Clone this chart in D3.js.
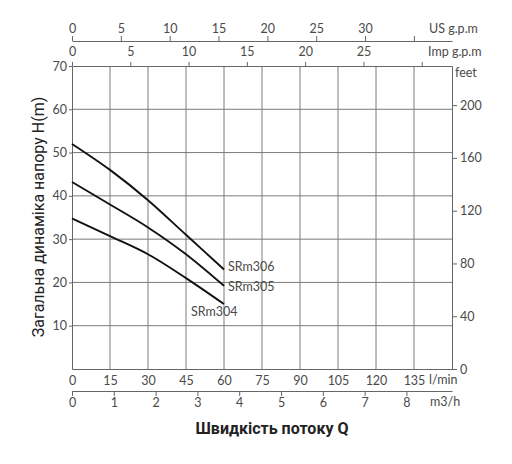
<!DOCTYPE html>
<html>
<head>
<meta charset="utf-8">
<script src="https://cdn.jsdelivr.net/npm/d3@7"></script>
<style>
  body { margin: 0; background: #fff; }
  svg { font-family: "Lato", "DejaVu Sans", sans-serif; }
  .tick text { fill: #4a4a4a; font-size: 12.5px; }
  .unit { fill: #4a4a4a; font-size: 12.5px; }
  .grid line { stroke: #7a7a7a; stroke-width: 1; }
</style>
</head>
<body>
<svg width="512" height="464"></svg>
<script>
// flow points (l/min) and head (m) for each pump
const flowLpm = [0, 15, 30, 45, 60];
const srm306 = [52, 46, 39, 31, 23];
const srm305 = [43.2, 38, 32.7, 26.5, 19.2];
const srm304 = [34.8, 30.7, 26.5, 21, 15];
const seriesNames = ["SRm306", "SRm305", "SRm304"];

const lpmTicks = [0, 15, 30, 45, 60, 75, 90, 105, 120, 135];
const m3hTicks = [0, 1, 2, 3, 4, 5, 6, 7, 8];
const usTicks = [0, 5, 10, 15, 20, 25, 30, 35];
const impTicks = [0, 5, 10, 15, 20, 25, 30];
const headTicks = [10, 20, 30, 40, 50, 60, 70];
const feetTicks = [0, 40, 80, 120, 160, 200];

const svg = d3.select("svg");
const pLeft = 72, pRight = 452, pTop = 66, pBottom = 369;

const x = d3.scaleLinear().domain([0, 150]).range([pLeft, pRight]);
const y = d3.scaleLinear().domain([0, 70]).range([pBottom, pTop]);
const yFt = d3.scaleLinear().domain([0, 70 * 3.28084]).range([pBottom, pTop]);
const xUS = d3.scaleLinear().domain([0, 38.9]).range([pLeft, pRight]);
const xImp = d3.scaleLinear().domain([0, 32.6]).range([pLeft, pRight]);
const xM3 = d3.scaleLinear().domain([0, 9.09]).range([pLeft, pRight]);

// grid
const grid = svg.append("g").attr("class", "grid");
grid.selectAll(".v").data(lpmTicks.slice(1)).enter().append("line")
  .attr("x1", d => x(d)).attr("x2", d => x(d))
  .attr("y1", pTop).attr("y2", pBottom);
grid.selectAll(".h").data(headTicks.slice(0, -1)).enter().append("line")
  .attr("x1", pLeft).attr("x2", pRight)
  .attr("y1", d => y(d)).attr("y2", d => y(d));

function styleAxis(g) {
  g.attr("font-family", null).attr("font-size", null);
  g.select(".domain").attr("stroke", "#666");
  g.selectAll(".tick line").attr("stroke", "#666");
}

// top axes
svg.append("g").attr("transform", `translate(0,41)`)
  .call(d3.axisTop(xUS).tickValues(usTicks).tickSize(5).tickSizeOuter(0).tickPadding(3)
    .tickFormat(d => d === 35 ? "" : d))
  .call(styleAxis);

svg.append("g").attr("transform", `translate(0,${pTop})`)
  .call(d3.axisTop(xImp).tickValues(impTicks).tickSize(4).tickSizeOuter(0).tickPadding(6)
    .tickFormat(d => d === 30 ? "" : d))
  .call(styleAxis);

// left / right
svg.append("g").attr("transform", `translate(${pLeft},0)`)
  .call(d3.axisLeft(y).tickValues(headTicks).tickSize(3).tickSizeOuter(0).tickPadding(2))
  .call(styleAxis);

svg.append("g").attr("transform", `translate(${pRight},0)`)
  .call(d3.axisRight(yFt).tickValues(feetTicks).tickSize(5).tickSizeOuter(0).tickPadding(3))
  .call(styleAxis);

// bottom axes
svg.append("g").attr("transform", `translate(0,${pBottom})`)
  .call(d3.axisBottom(x).tickValues(lpmTicks).tickSize(0).tickSizeOuter(0).tickPadding(7))
  .call(styleAxis);

svg.append("g").attr("transform", `translate(0,391)`)
  .call(d3.axisBottom(xM3).tickValues(m3hTicks).tickSize(5).tickSizeOuter(0).tickPadding(2))
  .call(styleAxis);

// unit labels
const units = [
  ["US g.p.m", 429, 29],
  ["Imp g.p.m", 428, 52],
  ["feet", 455, 73],
  ["l/min", 429, 380],
  ["m3/h", 430, 402]
];
svg.selectAll(".unit").data(units).enter().append("text")
  .attr("class", "unit")
  .attr("x", d => d[1]).attr("y", d => d[2])
  .attr("dy", "0.35em")
  .text(d => d[0]);

// curves
const line = d3.line().x(d => x(d[0])).y(d => y(d[1])).curve(d3.curveMonotoneX);
const series = [srm306, srm305, srm304];
series.forEach(vals => {
  svg.append("path")
    .datum(flowLpm.map((f, i) => [f, vals[i]]))
    .attr("fill", "none")
    .attr("stroke", "#111")
    .attr("stroke-width", 1.9)
    .attr("d", line);
});

const labelOffsets = [[4, -3], [4, 1], [-33, 8]];
seriesNames.forEach((name, i) => {
  const last = flowLpm.length - 1;
  svg.append("text")
    .attr("class", "unit")
    .attr("x", x(flowLpm[last]) + labelOffsets[i][0])
    .attr("y", y(series[i][last]) + labelOffsets[i][1])
    .attr("dy", "0.35em")
    .text(name);
});

// titles
svg.append("text")
  .attr("transform", "translate(38,217) rotate(-90)")
  .attr("text-anchor", "middle")
  .attr("dy", "0.35em")
  .attr("font-family", "Roboto, sans-serif")
  .attr("font-size", 16)
  .attr("fill", "#222")
  .text("Загальна динаміка напору H(m)");

svg.append("text")
  .attr("x", 272).attr("y", 428)
  .attr("text-anchor", "middle")
  .attr("dy", "0.35em")
  .attr("font-family", "Roboto, sans-serif")
  .attr("font-size", 16)
  .attr("font-weight", 700)
  .attr("fill", "#222")
  .text("Швидкість потоку Q");
</script>
</body>
</html>
